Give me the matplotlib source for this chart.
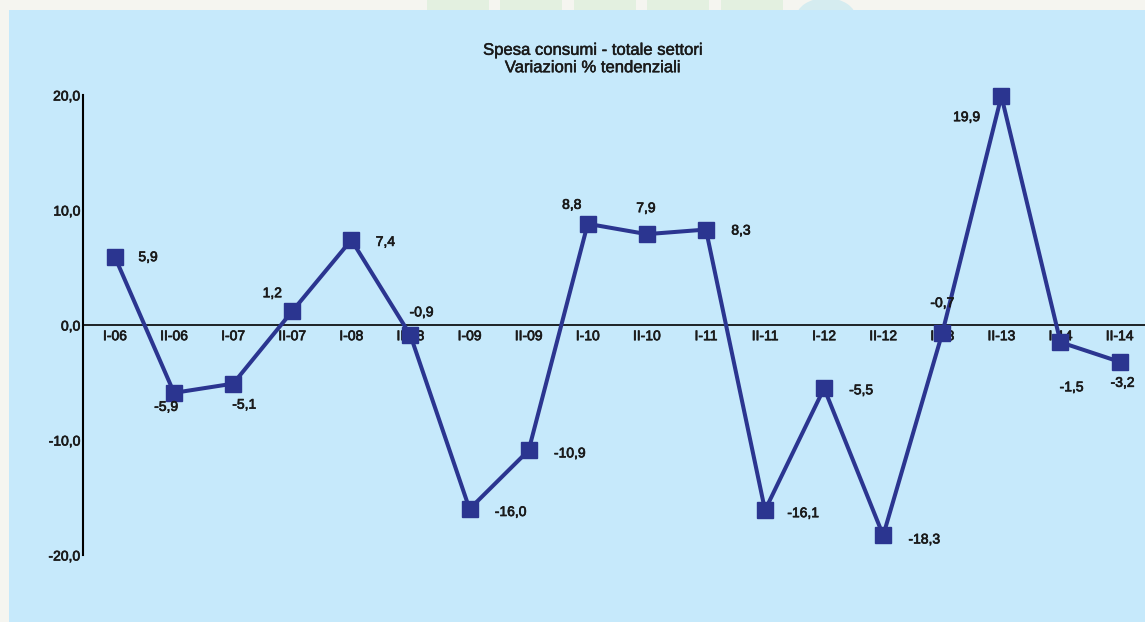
import matplotlib
matplotlib.use("Agg")
import matplotlib.pyplot as plt
import matplotlib.patheffects as pe
from matplotlib.patches import Rectangle, Ellipse

# data
periods = ["I-06", "II-06", "I-07", "II-07", "I-08", "II-08", "I-09", "II-09", "I-10",
           "II-10", "I-11", "II-11", "I-12", "II-12", "I-13", "II-13", "I-14", "II-14"]
values = [5.9, -5.9, -5.1, 1.2, 7.4, -0.9, -16.0, -10.9, 8.8,
          7.9, 8.3, -16.1, -5.5, -18.3, -0.7, 19.9, -1.5, -3.2]
y_ticks = [-20, -10, 0, 10, 20]
title = "Spesa consumi - totale settori\nVariazioni % tendenziali"

# label offsets in pixels (dx, dy)
offsets = [(33, 0), (-8, -14), (11, -21), (-20, 18), (34, -2), (11, 23), (41, -3), (41, -3),
           (-16, 19), (-1, 26), (35, -1), (38, -3), (37, -2), (41, -4), (0, 30), (-35, -21),
           (11, -45), (3, -21)]

plt.rcParams['font.family'] = ['Liberation Sans', 'DejaVu Sans']
thick = [pe.withStroke(linewidth=0.5, foreground='#1a1a1a')]

W, H = 1145, 622
fig = plt.figure(figsize=(W / 100, H / 100), dpi=100)
fig.patch.set_facecolor('#F5F5F0')

# faint decorations in the top strip, then the blue panel over them
for x0 in [427, 500, 574, 647, 721]:
    fig.patches.append(Rectangle((x0 / W, 1 - 10 / H), 62 / W, 10 / H, transform=fig.transFigure,
                                 facecolor='#E3F0E0', edgecolor='none', zorder=-3))
fig.patches.append(Ellipse((826 / W, 1 - 18 / H), 60 / W, 40 / H, transform=fig.transFigure,
                           facecolor='#D5ECF0', edgecolor='none', zorder=-3))
fig.patches.append(Rectangle((9 / W, 0), 1, 1 - 10 / H, transform=fig.transFigure,
                             facecolor='#C6E9FB', edgecolor='none', zorder=-2))

ax = fig.add_axes([83 / W, (H - 555) / H, (W - 83) / W, 460 / H])
ax.set_zorder(1)
ax.set_facecolor('none')
ax.spines['top'].set_visible(False)
ax.spines['right'].set_visible(False)
ax.spines['bottom'].set_position(('data', 0))
ax.spines['bottom'].set_linewidth(1.2)
ax.spines['left'].set_linewidth(1.5)

x = list(range(len(periods)))
ax.plot(x, values, color='#2B3590', lw=2.9, marker='s', ms=11.5, clip_on=False, zorder=3)

for i, (v, off) in enumerate(zip(values, offsets)):
    ax.annotate(f"{v:.1f}".replace('.', ','), xy=(i, v), xytext=off, textcoords='offset pixels',
                ha='center', va='center', fontsize=10, color='#1a1a1a', zorder=4,
                path_effects=thick)

ax.set_xlim(-0.541, 17.43)
ax.set_ylim(-20, 20)
ax.set_yticks(y_ticks)
ax.set_yticklabels([f"{t:.1f}".replace('.', ',') for t in y_ticks])
ax.set_xticks(x)
ax.set_xticklabels(periods)
ax.tick_params(axis='both', length=0, labelsize=10, colors='#1a1a1a')
ax.tick_params(axis='x', pad=3)
ax.tick_params(axis='y', pad=2)
for t in ax.xaxis.get_major_ticks() + ax.yaxis.get_major_ticks():
    t.label1.set_path_effects(thick)

fig.text(593 / W, 1 - 59 / H, title, ha='center', va='center', fontsize=12,
         color='#1a1a1a', linespacing=1.2,
         path_effects=[pe.withStroke(linewidth=0.35, foreground='#1a1a1a')])

fig.savefig("out.png", dpi=100, facecolor=fig.get_facecolor())
